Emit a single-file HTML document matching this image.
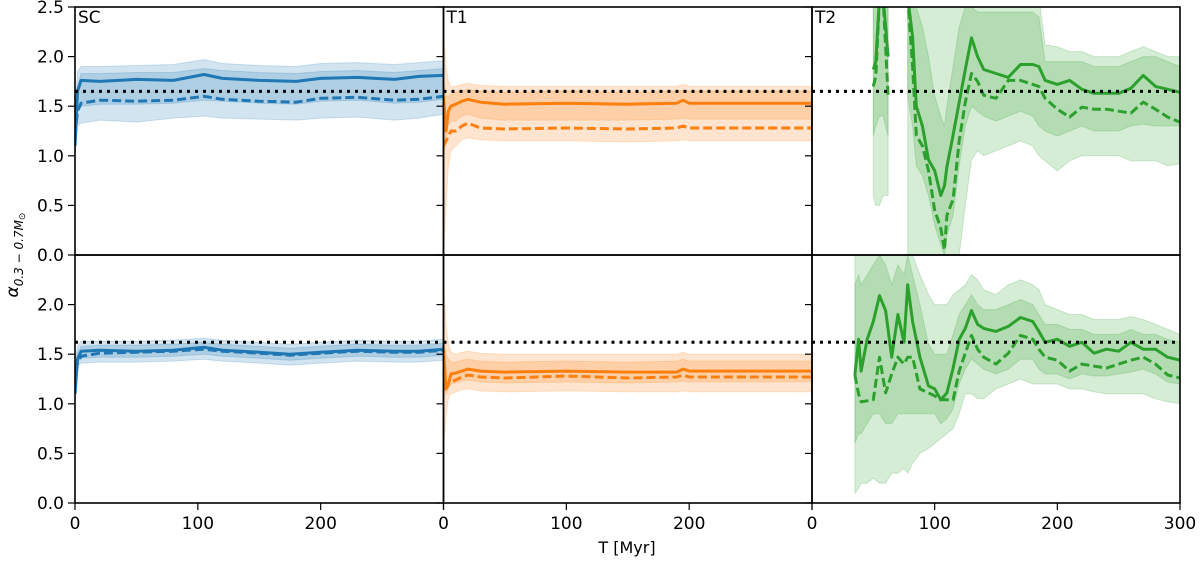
<!DOCTYPE html>
<html><head><meta charset="utf-8"><style>
body{margin:0;background:#fff;width:1200px;height:557px;overflow:hidden}
text{font-family:"DejaVu Sans","Liberation Sans",sans-serif;fill:#000}
</style></head><body>
<svg id="fig" width="1200" height="557" xmlns="http://www.w3.org/2000/svg"></svg>
<script>
// ---- data ----
const xTicks=[0,100,200,300];
const xTickLabels=["0","100","200","300"];
const yTicksTop=[0,0.5,1,1.5,2,2.5];
const yTicksBot=[0,0.5,1,1.5,2];
const panelLabels=["SC","T1","T2"];
const refTop=1.65, refBot=1.62;

// SC top
const scTopT=[0,2,5,20,50,80,105,120,150,180,200,230,260,280,300];
const scTopMean=[1.1,1.65,1.76,1.75,1.77,1.76,1.82,1.78,1.76,1.75,1.78,1.79,1.77,1.8,1.81];
const scTopMed=[1.2,1.45,1.53,1.56,1.55,1.56,1.6,1.57,1.55,1.54,1.58,1.59,1.56,1.57,1.6];
const scTopInLo=[1.2,1.45,1.5,1.52,1.52,1.53,1.56,1.55,1.53,1.52,1.55,1.56,1.53,1.54,1.57];
const scTopInHi=[1.3,1.7,1.83,1.83,1.84,1.84,1.88,1.86,1.84,1.83,1.85,1.86,1.84,1.86,1.88];
const scTopOutLo=[1.05,1.3,1.33,1.36,1.34,1.38,1.4,1.38,1.37,1.36,1.38,1.39,1.36,1.38,1.42];
const scTopOutHi=[1.4,1.85,1.9,1.9,1.91,1.92,1.97,1.93,1.91,1.9,1.93,1.94,1.92,1.94,1.96];
// SC bottom
const scBotT=[0,2,5,20,50,80,105,120,150,175,200,230,260,280,300];
const scBotMean=[1.1,1.45,1.53,1.54,1.53,1.54,1.57,1.54,1.52,1.5,1.52,1.54,1.53,1.53,1.55];
const scBotMed=[1.2,1.42,1.48,1.51,1.52,1.53,1.55,1.53,1.51,1.49,1.51,1.53,1.52,1.52,1.54];
const scBotInLo=[1.2,1.42,1.46,1.47,1.47,1.48,1.5,1.48,1.46,1.44,1.46,1.48,1.47,1.47,1.49];
const scBotInHi=[1.3,1.52,1.58,1.59,1.59,1.6,1.62,1.6,1.58,1.56,1.58,1.6,1.59,1.59,1.61];
const scBotOutLo=[1.05,1.38,1.41,1.42,1.42,1.43,1.45,1.43,1.41,1.39,1.41,1.43,1.42,1.42,1.44];
const scBotOutHi=[1.4,1.58,1.63,1.63,1.63,1.64,1.66,1.64,1.62,1.6,1.62,1.64,1.63,1.63,1.65];
// T1 top
const t1TopT=[0,2,4,6,10,15,20,30,50,100,150,190,195,200,250,300];
const t1TopMean=[1.6,1.25,1.45,1.5,1.52,1.55,1.57,1.54,1.52,1.53,1.52,1.53,1.56,1.53,1.53,1.53];
const t1TopMed=[1.1,1.15,1.2,1.25,1.25,1.3,1.33,1.28,1.27,1.28,1.27,1.28,1.3,1.28,1.28,1.28];
const t1TopInLo=[1.0,1.15,1.3,1.35,1.35,1.4,1.42,1.38,1.36,1.36,1.36,1.37,1.38,1.37,1.37,1.37];
const t1TopInHi=[1.8,1.6,1.6,1.62,1.64,1.66,1.67,1.65,1.64,1.65,1.64,1.65,1.66,1.65,1.65,1.65];
const t1TopOutLo=[0,0.5,0.9,1.05,1.1,1.16,1.18,1.16,1.15,1.15,1.14,1.15,1.16,1.15,1.15,1.15];
const t1TopOutHi=[2.25,1.9,1.75,1.7,1.7,1.72,1.73,1.71,1.7,1.7,1.7,1.7,1.72,1.7,1.7,1.7];
// T1 bottom
const t1BotT=[0,2,4,6,10,15,20,30,50,100,150,190,195,200,250,300];
const t1BotMean=[1.55,1.15,1.2,1.3,1.31,1.33,1.35,1.33,1.32,1.33,1.32,1.32,1.35,1.33,1.33,1.33];
const t1BotMed=[1.3,1.15,1.2,1.22,1.24,1.27,1.29,1.27,1.26,1.28,1.26,1.27,1.29,1.27,1.27,1.27];
const t1BotInLo=[1.1,1.1,1.15,1.2,1.21,1.23,1.24,1.22,1.21,1.22,1.21,1.22,1.23,1.22,1.22,1.22];
const t1BotInHi=[1.7,1.5,1.45,1.42,1.42,1.44,1.45,1.43,1.42,1.43,1.42,1.43,1.45,1.43,1.43,1.43];
const t1BotOutLo=[0.5,0.9,1.05,1.1,1.12,1.14,1.15,1.13,1.12,1.13,1.12,1.12,1.13,1.12,1.12,1.12];
const t1BotOutHi=[2.25,1.8,1.6,1.52,1.5,1.52,1.53,1.51,1.5,1.5,1.5,1.5,1.52,1.5,1.5,1.5];
// T2 top (null = gap)
const t2TopT=[50,52,55,58,62,63,77,78,82,85,90,95,100,105,108,110,115,120,125,130,135,140,150,160,170,180,185,190,200,210,220,230,240,250,260,270,280,290,300];
const t2TopMean=[1.87,1.95,2.6,2.6,2.0,null,null,2.6,2.2,1.5,1.3,0.96,0.85,0.6,0.7,0.89,1.21,1.54,1.87,2.19,2.0,1.87,1.83,1.79,1.92,1.92,1.9,1.76,1.72,1.76,1.67,1.63,1.63,1.63,1.68,1.81,1.7,1.67,1.64];
const t2TopMed=[1.7,1.8,2.6,2.6,1.6,null,null,2.6,1.9,1.21,1.1,0.85,0.45,0.27,0.05,0.4,0.56,1.15,1.54,1.83,1.75,1.61,1.58,1.76,1.76,1.72,1.7,1.58,1.47,1.39,1.49,1.47,1.47,1.45,1.43,1.54,1.47,1.39,1.34];
const t2TopInLo=[1.2,1.3,1.4,1.4,1.2,null,null,1.6,1.3,0.9,0.8,0.6,0.3,0.1,0.0,0.2,0.4,0.9,1.3,1.5,1.45,1.4,1.35,1.4,1.45,1.4,1.3,1.25,1.2,1.25,1.3,1.25,1.25,1.25,1.3,1.32,1.3,1.3,1.3];
const t2TopInHi=[2.6,2.6,2.6,2.6,2.6,null,null,2.6,2.6,2.5,2.3,2.0,1.6,1.4,1.3,1.5,1.9,2.3,2.5,2.5,2.45,2.45,2.45,2.45,2.45,2.45,2.4,1.95,1.95,1.95,1.95,1.9,1.9,1.9,1.95,2.0,2.0,1.95,1.9];
const t2TopOutLo=[0.6,0.5,0.5,0.6,0.6,null,null,0,0,0,0,0,0,0,0,0,0,0,0.5,0.96,1.05,1.0,1.05,1.1,1.15,1.1,1.0,0.95,0.85,0.95,1.0,1.0,1.0,1.0,0.95,0.95,0.95,0.9,0.92];
const t2TopOutHi=[2.6,2.6,2.6,2.6,2.6,null,null,2.6,2.6,2.6,2.6,2.6,2.6,2.6,2.6,2.6,2.6,2.6,2.6,2.6,2.6,2.6,2.6,2.6,2.6,2.6,2.6,2.12,2.1,2.05,2.05,2.0,2.0,2.0,2.05,2.1,2.05,2.0,2.0];
// T2 bottom
const t2BotT=[35,38,40,45,50,55,60,65,70,75,78,82,88,95,100,105,110,115,120,125,130,135,140,150,160,170,180,185,190,200,210,220,230,240,250,260,270,280,290,300];
const t2BotMean=[1.29,1.65,1.33,1.65,1.83,2.09,1.94,1.47,1.9,1.62,2.2,1.83,1.47,1.18,1.15,1.04,1.11,1.36,1.65,1.76,1.94,1.8,1.76,1.73,1.78,1.87,1.83,1.73,1.62,1.65,1.58,1.62,1.51,1.55,1.53,1.62,1.55,1.55,1.47,1.44];
const t2BotMed=[1.29,1.1,1.02,1.03,1.04,1.47,1.11,1.3,1.47,1.4,1.47,1.47,1.15,1.11,1.08,1.04,1.04,1.04,1.33,1.51,1.69,1.55,1.47,1.4,1.51,1.69,1.65,1.55,1.47,1.44,1.33,1.4,1.38,1.36,1.4,1.44,1.47,1.4,1.29,1.26];
const t2BotInLo=[0.6,0.7,0.7,0.8,0.9,0.9,0.8,0.8,0.9,0.9,0.9,0.9,0.9,0.9,0.9,0.8,0.85,0.95,1.2,1.35,1.45,1.4,1.35,1.3,1.35,1.45,1.45,1.35,1.3,1.3,1.25,1.3,1.28,1.28,1.3,1.32,1.35,1.3,1.22,1.2];
const t2BotInHi=[2.2,2.3,2.2,2.3,2.4,2.5,2.4,2.2,2.4,2.3,2.5,2.3,2.0,1.6,1.5,1.5,1.5,1.7,1.9,2.0,2.1,2.0,1.95,1.95,2.0,2.05,2.0,1.9,1.8,1.8,1.75,1.75,1.7,1.7,1.7,1.75,1.7,1.7,1.65,1.62];
const t2BotOutLo=[0.1,0.15,0.2,0.2,0.25,0.2,0.2,0.3,0.3,0.35,0.3,0.4,0.5,0.55,0.6,0.65,0.7,0.75,0.9,1.1,1.1,1.05,1.05,1.15,1.2,1.25,1.2,1.2,1.2,1.2,1.15,1.15,1.12,1.1,1.1,1.1,1.1,1.05,1.02,1.0];
const t2BotOutHi=[2.6,2.6,2.6,2.6,2.6,2.6,2.6,2.6,2.6,2.6,2.6,2.5,2.3,2.1,2.0,2.0,2.0,2.1,2.15,2.2,2.3,2.25,2.15,2.1,2.2,2.25,2.2,2.15,2.0,1.95,1.9,1.9,1.85,1.85,1.85,1.88,1.85,1.8,1.75,1.7];

// ---- layout ----
const NS="http://www.w3.org/2000/svg";
const svg=document.getElementById('fig');
const colX=[75,443.5,812,1180];
const rowY=[7,255,503];
function mk(tag,attrs,parent){const e=document.createElementNS(NS,tag);for(const k in attrs)e.setAttribute(k,attrs[k]);(parent||svg).appendChild(e);return e;}
function xs(c,t){return colX[c]+t/300*(colX[c+1]-colX[c]);}
function ys(r,v){return rowY[r+1]-v/2.5*(rowY[r+1]-rowY[r]);}

const panels=[
 {c:0,r:0,col:"#1f77b4",light:"#1f77b4",T:scTopT,mean:scTopMean,med:scTopMed,inLo:scTopInLo,inHi:scTopInHi,outLo:scTopOutLo,outHi:scTopOutHi,ref:refTop},
 {c:1,r:0,col:"#ff7f0e",light:"#ff7f0e",T:t1TopT,mean:t1TopMean,med:t1TopMed,inLo:t1TopInLo,inHi:t1TopInHi,outLo:t1TopOutLo,outHi:t1TopOutHi,ref:refTop},
 {c:2,r:0,col:"#2ca02c",light:"#2ca02c",T:t2TopT,mean:t2TopMean,med:t2TopMed,inLo:t2TopInLo,inHi:t2TopInHi,outLo:t2TopOutLo,outHi:t2TopOutHi,ref:refTop},
 {c:0,r:1,col:"#1f77b4",light:"#1f77b4",T:scBotT,mean:scBotMean,med:scBotMed,inLo:scBotInLo,inHi:scBotInHi,outLo:scBotOutLo,outHi:scBotOutHi,ref:refBot},
 {c:1,r:1,col:"#ff7f0e",light:"#ff7f0e",T:t1BotT,mean:t1BotMean,med:t1BotMed,inLo:t1BotInLo,inHi:t1BotInHi,outLo:t1BotOutLo,outHi:t1BotOutHi,ref:refBot},
 {c:2,r:1,col:"#2ca02c",light:"#2ca02c",T:t2BotT,mean:t2BotMean,med:t2BotMed,inLo:t2BotInLo,inHi:t2BotInHi,outLo:t2BotOutLo,outHi:t2BotOutHi,ref:refBot}
];

function segments(T,arrs){
  const segs=[];let cur=[];
  for(let i=0;i<T.length;i++){
    if(arrs.some(a=>a[i]===null)){if(cur.length)segs.push(cur);cur=[];}
    else cur.push(i);
  }
  if(cur.length)segs.push(cur);return segs;
}

panels.forEach((p,pi)=>{
  const cid="clip"+pi;
  const cp=mk('clipPath',{id:cid});
  mk('rect',{x:colX[p.c],y:rowY[p.r],width:colX[p.c+1]-colX[p.c],height:rowY[p.r+1]-rowY[p.r]},cp);
  const g=mk('g',{'clip-path':'url(#'+cid+')'});
  
  
  const band=(lo,hi,op,name)=>{
    segments(p.T,[lo,hi]).forEach(s=>{
      let d='';
      s.forEach((i,k)=>{d+=(k?'L':'M')+xs(p.c,p.T[i]).toFixed(1)+','+ys(p.r,hi[i]).toFixed(1);});
      for(let k=s.length-1;k>=0;k--){const i=s[k];d+='L'+xs(p.c,p.T[i]).toFixed(1)+','+ys(p.r,lo[i]).toFixed(1);}
      const e=mk('path',{d:d+'Z',fill:p.light,'fill-opacity':op,stroke:p.light,'stroke-opacity':op,'stroke-width':1},g);
      
      
    });
  };
  band(p.outLo,p.outHi,0.2,'outer-band');
  band(p.inLo,p.inHi,0.2,'inner-band');
  const line=(arr,dash,name)=>{
    segments(p.T,[arr]).forEach(s=>{
      const d=s.map((i,k)=>(k?'L':'M')+xs(p.c,p.T[i]).toFixed(1)+','+ys(p.r,arr[i]).toFixed(1)).join('');
      const e=mk('path',{d:d,fill:'none',stroke:p.col,'stroke-width':3,'stroke-dasharray':dash,'stroke-linejoin':'round'},g);
      
      
    });
  };
  line(p.mean,'none','mean-line');
  line(p.med,'9,4','median-line');
  const rl=mk('line',{x1:colX[p.c],x2:colX[p.c+1],y1:ys(p.r,p.ref),y2:ys(p.r,p.ref),stroke:'#000','stroke-width':3,'stroke-dasharray':'3,5'},g);
  
  
  const fr=mk('rect',{x:colX[p.c],y:rowY[p.r],width:colX[p.c+1]-colX[p.c],height:rowY[p.r+1]-rowY[p.r],fill:'none',stroke:'#000','stroke-width':1.6});
  
  
  const yt=p.r===0?yTicksTop:yTicksBot;
  yt.forEach(v=>{
    const y=ys(p.r,v);
    const tk=mk('line',{x1:colX[p.c]-7,x2:colX[p.c],y1:y,y2:y,stroke:'#000','stroke-width':1.2});
    
    
    if(p.c===0){
      const tl=mk('text',{x:colX[0]-11,y:y+6,'text-anchor':'end','font-size':17});
      tl.textContent=v.toFixed(1);
      
      
    }
  });
  if(p.r===0){
    const pl=mk('text',{x:colX[p.c]+3,y:rowY[0]+16,'font-size':17});
    pl.textContent=panelLabels[p.c];
    
    
  } else {
    xTicks.forEach((v,i)=>{
      const x=xs(p.c,v);
      const tk=mk('line',{x1:x,x2:x,y1:rowY[2],y2:rowY[2]+7,stroke:'#000','stroke-width':1.2});
      
      
      if(i<3||p.c===2){
        const tl=mk('text',{x:x,y:rowY[2]+26,'text-anchor':'middle','font-size':17});
        tl.textContent=xTickLabels[i];
        
        
      }
    });
  }
});
const xt=mk('text',{x:627,y:553,'text-anchor':'middle','font-size':16});
xt.textContent='T [Myr]';


const yt=mk('text',{x:0,y:0,'text-anchor':'middle','font-size':17,transform:'translate(18,255) rotate(-90)'});


yt.innerHTML='<tspan font-style="italic">α</tspan><tspan font-size="12" dy="5" font-style="italic">0.3 − 0.7M</tspan><tspan font-size="9" dy="2">⊙</tspan>';
</script>
</body></html>
